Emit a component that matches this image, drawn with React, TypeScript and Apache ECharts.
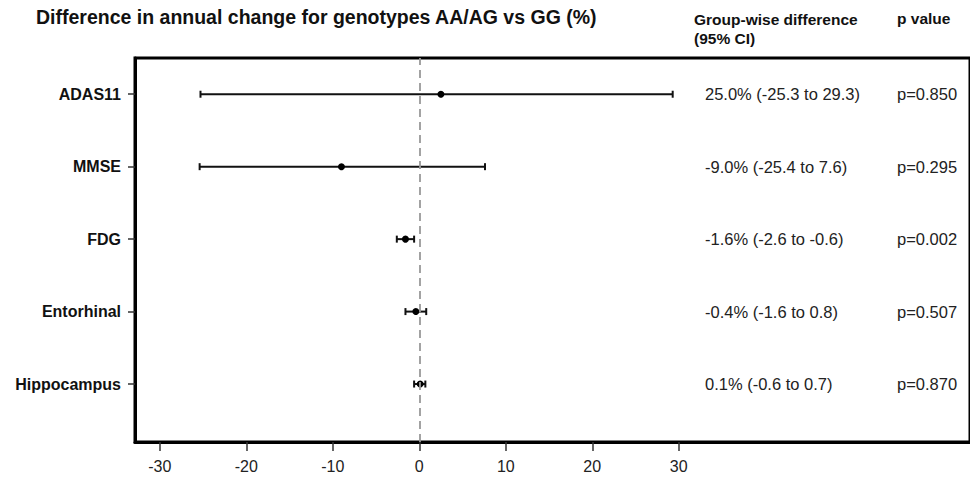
import React, { useEffect, useRef } from "react";
import * as echarts from "echarts";

const categories = ["ADAS11", "MMSE", "FDG", "Entorhinal", "Hippocampus"];
const estimates = [2.5, -9.0, -1.6, -0.4, 0.1];
const lower = [-25.3, -25.4, -2.6, -1.6, -0.6];
const upper = [29.3, 7.6, -0.6, 0.8, 0.7];
const ciLabels = [
  "25.0% (-25.3 to 29.3)",
  "-9.0% (-25.4 to 7.6)",
  "-1.6% (-2.6 to -0.6)",
  "-0.4% (-1.6 to 0.8)",
  "0.1% (-0.6 to 0.7)",
];
const pLabels = ["p=0.850", "p=0.295", "p=0.002", "p=0.507", "p=0.870"];
const xTicks = [-30, -20, -10, 0, 10, 20, 30];

const FONT = "Arial, 'Liberation Sans', Helvetica, sans-serif";

export default function App() {
  const ref = useRef<HTMLDivElement>(null);
  useEffect(() => {
    document.body.style.margin = "0";
    if (!ref.current) return;
    const chart = echarts.init(ref.current, null, { renderer: "svg" });
    const n = categories.length;
    const yPos = categories.map((_, i) => n - i);
    const data = categories.map((_, i) => [yPos[i], estimates[i], lower[i], upper[i], i]);

    const option: any = {
      animation: false,
      backgroundColor: "#fff",
      textStyle: { fontFamily: FONT },
      grid: {
        left: 135,
        top: 58,
        width: 840,
        height: 384,
        show: true,
        borderColor: "#000",
        borderWidth: 3,
        backgroundColor: "transparent",
      },
      xAxis: {
        type: "value",
        min: -(421 - 135) / 8.7,
        max: (975 - 421) / 8.7,
        axisLine: { show: true, onZero: false, lineStyle: { color: "#000", width: 3 } },
        splitLine: { show: false },
        axisTick: {
          show: true,
          customValues: xTicks,
          length: 9,
          lineStyle: { color: "#333", width: 1.5 },
        },
        axisLabel: {
          customValues: xTicks,
          margin: 16,
          fontSize: 16,
          color: "#222",
          fontFamily: FONT,
        },
      },
      yAxis: {
        type: "value",
        min: 0.2,
        max: 5.5,
        axisLine: { show: true, onZero: false, lineStyle: { color: "#000", width: 3 } },
        splitLine: { show: false },
        axisTick: {
          show: true,
          customValues: yPos,
          length: 7,
          lineStyle: { color: "#333", width: 1.5 },
        },
        axisLabel: {
          customValues: yPos,
          margin: 14,
          fontSize: 16,
          fontWeight: "bold",
          color: "#111",
          fontFamily: FONT,
          formatter: (v: number) => {
            const idx = n - Math.round(v);
            return categories[idx] ?? "";
          },
        },
      },
      graphic: [
        {
          type: "text",
          left: 36,
          top: 7,
          style: {
            text: "Difference in annual change for genotypes AA/AG vs GG (%)",
            font: `bold 19.5px ${FONT}`,
            fill: "#111",
          },
        },
        {
          type: "text",
          left: 694,
          top: 10,
          style: {
            text: "Group-wise difference\n(95% CI)",
            font: `bold 15.5px ${FONT}`,
            lineHeight: 19,
            fill: "#111",
          },
        },
        {
          type: "text",
          left: 897,
          top: 10,
          style: {
            text: "p value",
            font: `bold 15.5px ${FONT}`,
            fill: "#111",
          },
        },
      ],
      series: [
        {
          type: "custom",
          data,
          encode: { x: [1, 2, 3], y: 0 },
          clip: false,
          renderItem: (params: any, api: any) => {
            const y = api.value(0);
            const est = api.value(1);
            const lo = api.value(2);
            const hi = api.value(3);
            const idx = api.value(4);
            const pLo = api.coord([lo, y]);
            const pHi = api.coord([hi, y]);
            const pE = api.coord([est, y]);
            const cap = 3.5;
            const stroke = { stroke: "#111", lineWidth: 2 };
            return {
              type: "group",
              children: [
                { type: "line", shape: { x1: pLo[0], y1: pLo[1], x2: pHi[0], y2: pHi[1] }, style: stroke },
                { type: "line", shape: { x1: pLo[0], y1: pLo[1] - cap, x2: pLo[0], y2: pLo[1] + cap }, style: stroke },
                { type: "line", shape: { x1: pHi[0], y1: pHi[1] - cap, x2: pHi[0], y2: pHi[1] + cap }, style: stroke },
                { type: "circle", shape: { cx: pE[0], cy: pE[1], r: 3.5 }, style: { fill: "#000" } },
                {
                  type: "text",
                  x: 705,
                  y: pE[1],
                  style: {
                    text: ciLabels[idx],
                    font: `16.5px ${FONT}`,
                    fill: "#222",
                    verticalAlign: "middle",
                    align: "left",
                  },
                },
                {
                  type: "text",
                  x: 897,
                  y: pE[1],
                  style: {
                    text: pLabels[idx],
                    font: `16.5px ${FONT}`,
                    fill: "#222",
                    verticalAlign: "middle",
                    align: "left",
                  },
                },
              ],
            };
          },
          markLine: {
            silent: true,
            symbol: ["none", "none"],
            label: { show: false },
            lineStyle: { color: "#999", width: 1.8, type: [8, 5] },
            data: [{ xAxis: 0 }],
          },
        },
      ],
    };
    chart.setOption(option);
    return () => chart.dispose();
  }, []);
  return (
    <div
      ref={ref}
      style={{ position: "fixed", left: 0, top: 0, width: 970, height: 477 }}
    />
  );
}
